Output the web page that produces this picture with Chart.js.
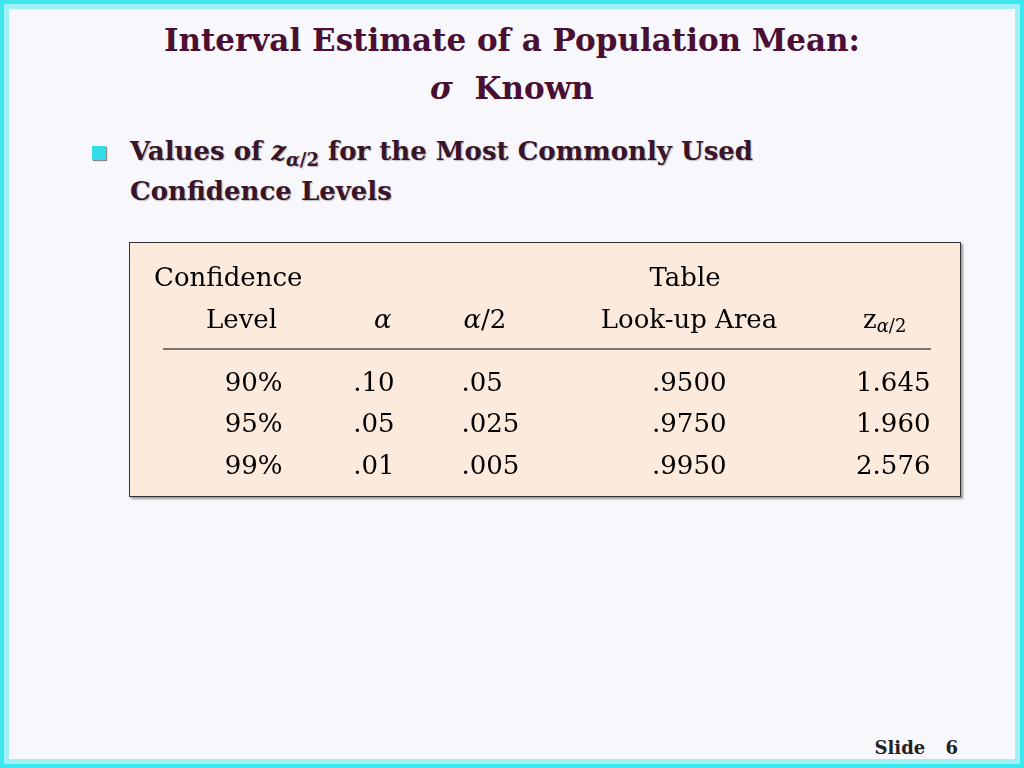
<!DOCTYPE html>
<html><head><meta charset="utf-8">
<script src="https://cdn.jsdelivr.net/npm/chart.js@4"></script>
<style>
html,body{margin:0;padding:0}
body{width:1024px;height:768px;position:relative;background:#f7f7fc;overflow:hidden;font-family:"DejaVu Serif",serif;box-shadow:inset 0 0 0 4px #3ee6f0,inset 0 0 0 9px #9ff2f6;}
.t{position:absolute;left:0;width:1024px;text-align:center;color:#4a0f33;font-weight:bold;font-size:31px}
.b{position:absolute;left:130px;color:#3a1428;font-weight:bold;font-size:26px;text-shadow:1px 1px 1px #bbb}
#box{position:absolute;left:129px;top:242px;width:830px;height:253px;background:#fcebdc;border:1.5px solid #333;box-shadow:2px 2px 2px #999}
#foot{position:absolute;right:66px;top:737px;font-weight:bold;font-size:18px;color:#222;word-spacing:14px}
</style></head><body>
<div class="t" style="top:22px">Interval Estimate of a Population Mean:</div>
<div class="t" style="top:70px"><i>σ</i>&nbsp; Known</div>
<div style="position:absolute;left:92px;top:146px;width:14px;height:14px;background:#33dde8;box-shadow:1px 1px 1px #888"></div>
<div class="b" style="top:136px">Values of <i>z</i><sub style="font-size:18px"><i>α</i>/2</sub> for the Most Commonly Used</div>
<div class="b" style="top:176px">Confidence Levels</div>
<div id="box"><canvas id="c"></canvas></div>
<div id="foot">Slide 6</div>
<script>
const columns = ["Confidence Level", "α", "α/2", "Table Look-up Area", "zα/2"];
const levels = ["90%", "95%", "99%"];
const alphas = [".10", ".05", ".01"];
const halfAlphas = [".05", ".025", ".005"];
const lookupAreas = [".9500", ".9750", ".9950"];
const zValues = ["1.645", "1.960", "2.576"];
const cols=[levels,alphas,halfAlphas,lookupAreas,zValues];
const F='26px "DejaVu Serif", serif', FI='italic 26px "DejaVu Serif", serif';
const tablePlugin={id:'tbl',afterDraw(ch){
  const ctx=ch.ctx,x=ch.scales.x,y=ch.scales.y;
  const px=i=>x.getPixelForValue(i);
  // right edge / left edge anchors per column
  const anchor=[[px(0)+30,'right'],[px(1)-13,'right'],[px(2)-101,'left'],[px(3)+9,'right'],[px(4)+58,'right']];
  ctx.save();ctx.fillStyle='#000';ctx.textBaseline='middle';ctx.font=F;
  cols.forEach((arr,ci)=>arr.forEach((v,ri)=>{ctx.textAlign=anchor[ci][1];ctx.fillText(v,anchor[ci][0],y.getPixelForValue(ri));}));
  const h1=36,h2=78;
  ctx.textAlign='left';ctx.fillText('Confidence',24,h1);ctx.fillText('Level',76,h2);
  ctx.textAlign='right';ctx.font=FI;ctx.fillText('α',anchor[1][0]-3,h2);
  ctx.textAlign='left';let w=ctx.measureText('α').width;
  let s=anchor[2][0]+2;ctx.fillText('α',s,h2);ctx.font=F;ctx.fillText('/2',s+w,h2);
  ctx.textAlign='center';ctx.fillText('Table',555,h1);ctx.fillText('Look-up Area',559,h2);
  ctx.textAlign='left';s=733;ctx.fillText('z',s,h2);let zw=ctx.measureText('z').width;
  ctx.font='italic 18px "DejaVu Serif", serif';ctx.fillText('α',s+zw,h2+6);let aw=ctx.measureText('α').width;
  ctx.font='18px "DejaVu Serif", serif';ctx.fillText('/2',s+zw+aw,h2+6);
  ctx.strokeStyle='#000';ctx.lineWidth=1;ctx.beginPath();ctx.moveTo(33,106);ctx.lineTo(801,106);ctx.stroke();
  ctx.restore();}};
new Chart(document.getElementById('c'),{type:'scatter',data:{datasets:[{data:[]}]},
 options:{responsive:true,maintainAspectRatio:false,animation:false,
  layout:{padding:{top:120,bottom:8,left:45,right:10}},
  plugins:{legend:{display:false},tooltip:{enabled:false}},
  scales:{x:{type:'category',labels:columns,offset:true,display:false},
          y:{type:'category',labels:levels,offset:true,display:false}}},
 plugins:[tablePlugin]});
</script></body></html>
